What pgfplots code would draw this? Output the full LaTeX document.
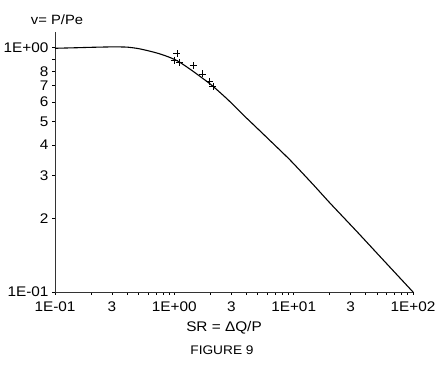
\documentclass[border=0pt]{standalone}
\usepackage{fontspec}
\setmainfont{Liberation Sans}[FakeStretch=1.1]
\usepackage{pgfplots}
\pgfplotsset{compat=1.18}
\begin{document}
\begin{tikzpicture}
\useasboundingbox (-55bp,-74bp) rectangle (380bp,292bp);
\begin{axis}[
  at={(0,0)}, anchor=south west,
  width=358bp, height=260bp, scale only axis,
  xmode=log, ymode=log,
  xmin=0.1, xmax=100, ymin=0.1, ymax=1.16,
  axis x line=bottom, axis y line=left,
  axis line style={-, line width=0.7pt, black!80},
  tick align=outside,
  major tick length=3bp, minor tick length=3bp,
  tick style={black, line width=0.5pt},
  xtick={0.1,0.3,1,3,10,30,100},
  xticklabels={1E-01,3,1E+00,3,1E+01,3,1E+02},
  minor xtick={0.2,0.4,0.5,0.6,0.7,0.8,0.9,2,4,5,6,7,8,9,20,40,50,60,70,80,90},
  ytick={0.1,0.2,0.3,0.4,0.5,0.6,0.7,0.8,0.9,1},
  yticklabels={1E-01,2,3,4,5,6,7,8,,1E+00},
  minor ytick={},
  ticklabel style={font=\fontsize{14}{16}\selectfont},
  xticklabel style={yshift=-3bp},
  /pgf/number format/assume math mode=true,
  clip=false,
]
\addplot[black, line width=1.1pt, mark=none, smooth, tension=0.4] coordinates {
 (0.1,0.995) (0.15,1.0) (0.2,1.004) (0.3,1.008) (0.4,1.006) (0.5,0.992)
 (0.625,0.968) (0.76,0.943) (0.92,0.912) (1.1,0.875) (1.44,0.80)
 (1.88,0.727) (2.12,0.694) (2.82,0.612) (3.79,0.530) (4.3,0.500)
 (6.3,0.418) (9.33,0.347) (14.6,0.275) (20.2,0.231) (33.8,0.177)
 (56.5,0.135) (100,0.1)
};
\addplot[only marks, mark=+, mark size=3.5bp, black, line width=0.5pt] coordinates {
 (1.05,0.945) (1.0,0.89) (1.11,0.87) (1.44,0.844) (1.73,0.782) (1.96,0.728) (2.10,0.694)
};
\end{axis}
\node[font=\fontsize{14}{16}\selectfont] at (169bp,-36bp) {SR = ΔQ/P};
\node[font=\fontsize{12.5}{15}\selectfont] at (167bp,-58bp) {FIGURE 9};
\node[font=\fontsize{13.5}{16}\selectfont] at (2bp,272bp) {v= P/Pe};
\end{tikzpicture}
\end{document}
